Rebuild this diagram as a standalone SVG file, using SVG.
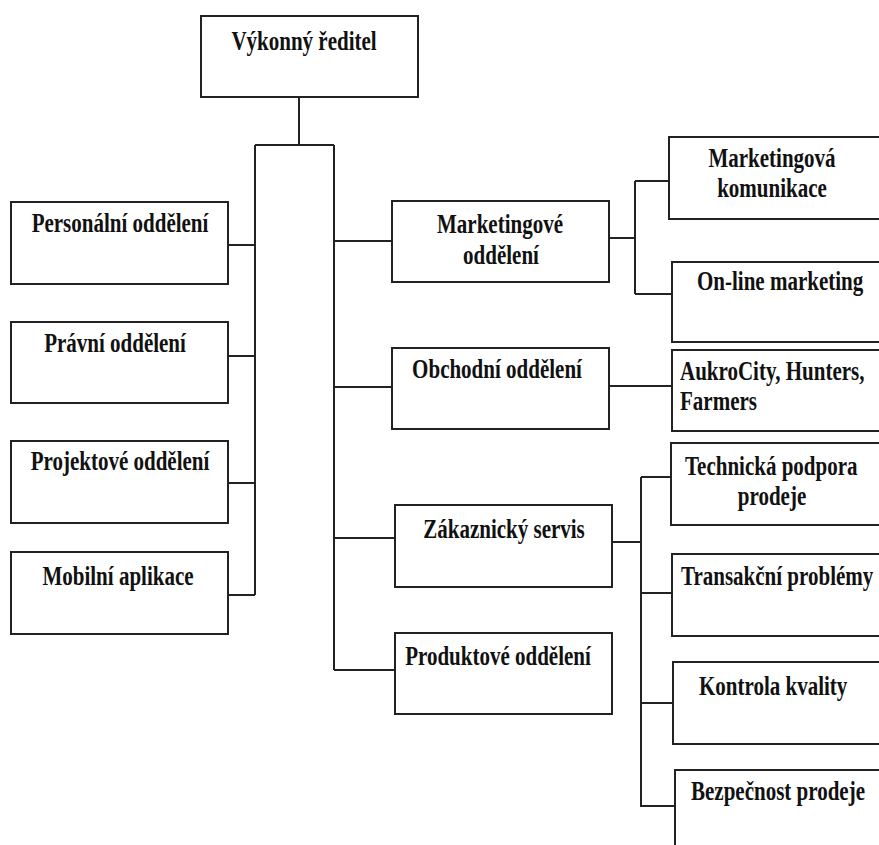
<svg xmlns="http://www.w3.org/2000/svg" width="879" height="845" viewBox="0 0 879 845" font-family="Liberation Serif, DejaVu Serif, serif">
<style>
.box{fill:#fff;stroke:#222;stroke-width:2}
.t{font-weight:bold;font-size:21px;fill:#111}
.m{text-anchor:middle}
.conn{fill:none;stroke:#222;stroke-width:2}
</style>
<rect width="879" height="845" fill="#fff"/>
<g id="connectors" class="conn">
<path d="M299,97 V145"/>
<path d="M255,145 H334"/>
<path d="M255,145 V595"/>
<path d="M334,145 V670"/>
<path d="M228,245 H255"/>
<path d="M228,356 H255"/>
<path d="M228,483 H255"/>
<path d="M228,595 H255"/>
<path d="M334,241 H392"/>
<path d="M334,387 H392"/>
<path d="M334,538 H395"/>
<path d="M334,670 H395"/>
<path d="M609,238 H635"/>
<path d="M635,181 V294"/>
<path d="M635,181 H669"/>
<path d="M635,294 H672"/>
<path d="M609,386 H672"/>
<path d="M612,542 H641"/>
<path d="M641,477 V807"/>
<path d="M641,477 H671"/>
<path d="M641,593 H672"/>
<path d="M641,703 H673"/>
<path d="M641,806 H675"/>
</g>
<g id="n-ceo"><rect class="box" x="201" y="16" width="217" height="81"/><text class="t m" transform="translate(304,50) scale(1,1.25)">Výkonný ředitel</text></g>
<g id="n-personalni"><rect class="box" x="11" y="202" width="217" height="82"/><text class="t m" transform="translate(120,232) scale(1,1.25)">Personální oddělení</text></g>
<g id="n-pravni"><rect class="box" x="11" y="322" width="217" height="81"/><text class="t m" transform="translate(115,352) scale(1,1.25)">Právní oddělení</text></g>
<g id="n-projektove"><rect class="box" x="11" y="441" width="217" height="82"/><text class="t m" transform="translate(120,470) scale(1,1.25)">Projektové oddělení</text></g>
<g id="n-mobilni"><rect class="box" x="11" y="552" width="217" height="82"/><text class="t m" transform="translate(118,585) scale(1,1.25)">Mobilní aplikace</text></g>
<g id="n-marketingove"><rect class="box" x="392" y="201" width="217" height="81"/><text class="t m" transform="translate(500,233) scale(1,1.25)">Marketingové</text><text class="t m" transform="translate(501,264) scale(1,1.25)">oddělení</text></g>
<g id="n-obchodni"><rect class="box" x="392" y="348" width="217" height="81"/><text class="t m" transform="translate(497,378) scale(1,1.25)">Obchodní oddělení</text></g>
<g id="n-zakaznicky"><rect class="box" x="395" y="505" width="217" height="82"/><text class="t m" transform="translate(504,538) scale(1,1.25)">Zákaznický servis</text></g>
<g id="n-produktove"><rect class="box" x="395" y="633" width="217" height="81"/><text class="t m" transform="translate(498,665) scale(1,1.25)">Produktové oddělení</text></g>
<g id="n-mkom"><rect class="box" x="669" y="137" width="220" height="82"/><text class="t m" transform="translate(772,167) scale(1,1.25)">Marketingová</text><text class="t m" transform="translate(772,197) scale(1,1.25)">komunikace</text></g>
<g id="n-online"><rect class="box" x="672" y="262" width="220" height="80"/><text class="t" transform="translate(697,290) scale(1,1.25)">On-line marketing</text></g>
<g id="n-aukro"><rect class="box" x="672" y="350" width="220" height="81"/><text class="t" transform="translate(680,380) scale(1,1.25)">AukroCity, Hunters,</text><text class="t" transform="translate(680,410) scale(1,1.25)">Farmers</text></g>
<g id="n-technicka"><rect class="box" x="671" y="443" width="220" height="82"/><text class="t" transform="translate(685,475) scale(1,1.25)">Technická podpora</text><text class="t m" transform="translate(772,505) scale(1,1.25)">prodeje</text></g>
<g id="n-transakcni"><rect class="box" x="672" y="554" width="220" height="82"/><text class="t" transform="translate(681,585) scale(1,1.25)">Transakční problémy</text></g>
<g id="n-kontrola"><rect class="box" x="673" y="662" width="220" height="82"/><text class="t" transform="translate(699,695) scale(1,1.25)">Kontrola kvality</text></g>
<g id="n-bezpecnost"><rect class="box" x="675" y="770" width="220" height="90"/><text class="t" transform="translate(691,800) scale(1,1.25)">Bezpečnost prodeje</text></g>
</svg>
